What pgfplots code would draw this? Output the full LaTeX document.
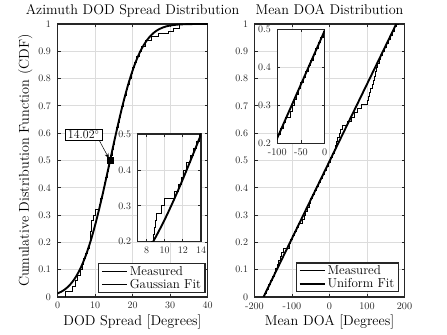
\documentclass[border=0pt]{standalone}
\usepackage{pgfplots}
\usepackage{pgfplotstable}
\pgfplotsset{compat=1.18}
\usetikzlibrary{arrows.meta}
\definecolor{gridc}{RGB}{220,220,220}
\definecolor{axc}{RGB}{38,38,38}
\newcommand\lblf{\fontsize{14.3}{16}\selectfont}
\newcommand\ttlf{\fontsize{14.2}{16}\selectfont}
\newcommand\legf{\fontsize{13}{14}\selectfont}

\pgfplotstableread{
x y
0 0
2.0 0.02
4.0 0.04
4.8 0.06
5.4 0.08
6.0 0.10
6.5 0.12
7.0 0.14
7.5 0.16
8.0 0.18
8.5 0.20
8.75 0.22
8.85 0.24
8.95 0.26
9.05 0.28
9.6 0.30
10.0 0.32
11.1 0.34
11.5 0.36
11.85 0.38
12.1 0.40
12.4 0.42
12.8 0.44
13.2 0.46
13.5 0.48
13.85 0.50
14.18 0.52
14.49 0.54
14.81 0.56
15.13 0.58
15.46 0.60
15.78 0.62
16.11 0.64
16.45 0.66
16.79 0.68
17.14 0.70
17.50 0.72
17.88 0.74
18.27 0.76
18.68 0.78
19.10 0.80
19.55 0.82
20.03 0.84
20.55 0.86
21.11 0.88
21.75 0.90
22.47 0.92
23.5 0.94
25.0 0.955
27.0 0.965
29.5 0.975
31.0 0.985
32.5 1.0
40 1.0
}\measA

\pgfplotstableread{
x y
0 0.0130
1 0.0194
2 0.0282
3 0.0401
4 0.0559
5 0.0761
6 0.1015
7 0.1326
8 0.1696
9 0.2128
10 0.2617
11 0.3159
12 0.3742
13 0.4357
14 0.4987
15 0.5619
16 0.6233
17 0.6819
18 0.7363
19 0.7853
20 0.8287
21 0.8661
22 0.8974
23 0.9229
24 0.9434
25 0.9593
26 0.9714
27 0.9803
28 0.9868
29 0.9913
30 0.9944
32 0.9978
34 0.9992
36 0.9998
38 1.0
40 1.0
}\fitA

\pgfplotstableread{
x y
-177 0.0
-173.4 0.015
-168.1 0.03
-162.8 0.045
-157.5 0.06
-152.2 0.075
-146.8 0.09
-144 0.105
-140 0.12
-136 0.135
-132 0.15
-128 0.165
-124 0.18
-108 0.195
-104.4 0.21
-99.1 0.225
-93.8 0.24
-88.4 0.255
-84 0.27
-72 0.285
-68 0.30
-64 0.315
-60 0.33
-55 0.345
-51 0.36
-46 0.375
-40.6 0.39
-35.3 0.405
-30.0 0.42
-24.7 0.435
-19.4 0.45
-14.1 0.465
-8.8 0.48
-3.5 0.495
1.8 0.51
7.1 0.525
12.4 0.54
16 0.555
19 0.57
22 0.585
26 0.60
30 0.615
35 0.63
47 0.645
58 0.66
65 0.675
73 0.69
85 0.705
100 0.72
104 0.735
107 0.75
110 0.765
113 0.78
116 0.795
119 0.81
122 0.825
125 0.84
128 0.855
132 0.87
136 0.885
140 0.90
145.2 0.915
150.5 0.93
155.8 0.945
161.1 0.96
166.4 0.975
171.7 0.99
177 1.0
185 1.0
}\measB

\pgfplotstableread{
x y
-176 0
178 1
}\fitB

\pgfplotsset{
  matlab/.style={
    scale only axis,
    enlargelimits=false,
    axis line style={line width=1.2pt, draw=axc},
    grid=major,
    major grid style={draw=gridc, line width=0.8pt},
    tick align=inside,
    major tick length=3bp,
    tick style={draw=axc, line width=0.8pt},
    tick label style={font=\fontsize{10.2}{12}\selectfont, text=axc},
    xticklabel style={yshift=-2bp},
    yticklabel style={xshift=-3bp},
    axis background/.style={fill=white},
  },
}

\begin{document}
\begin{tikzpicture}
\useasboundingbox (0,0) rectangle (447bp,335bp);

% ---------- left main axis
\begin{axis}[matlab,
  at={(57.5bp,38bp)}, anchor=south west, width=150bp, height=273bp,
  xmin=0, xmax=40, ymin=0, ymax=1,
  xtick={0,10,20,30,40},
  ytick={0,0.1,0.2,0.3,0.4,0.5,0.6,0.7,0.8,0.9,1},
  title={Azimuth DOD Spread Distribution},
  title style={font=\ttlf, at={(axis description cs:0.5,1.014)}, anchor=base},
  xlabel={DOD Spread [Degrees]},
  xlabel style={font=\lblf, at={(axis description cs:0.5,-0.106)}, anchor=base},
  ylabel={Cumulative Distribution Function (CDF)},
  ylabel style={font=\lblf, at={(axis description cs:-0.215,0.5)}, anchor=center},
  legend cell align=left,
  legend style={at={(0.987,0.015)}, anchor=south east, draw=axc, line width=1.2pt,
    font=\legf, inner xsep=2bp, inner ysep=0.5bp, row sep=-1.5bp},
  legend image code/.code={\draw[#1] (0bp,0bp) -- (25bp,0bp);},
]
\addplot[const plot, black, line width=0.6pt] table {\measA};
\addplot[black, line width=1.9pt, smooth] table {\fitA};
\addplot[only marks, mark=square*, mark size=3bp, black, forget plot] coordinates {(14.02,0.5)};
\legend{Measured, Gaussian Fit}
\node[draw=black, fill=white, line width=0.6pt, font=\fontsize{12}{13}\selectfont,
  inner xsep=3bp, inner ysep=1.5bp] at (axis cs:6.98,0.595) {14.02$^\circ$};
\draw[-{Stealth[length=5bp,width=4bp]}, line width=0.5pt] (axis cs:11.2,0.572) -- (axis cs:13.7,0.508);
\end{axis}

% ---------- left inset
\begin{axis}[matlab,
  at={(137.5bp,93.3bp)}, anchor=south west, width=63.5bp, height=107.7bp,
  xmin=7, xmax=14, ymin=0.2, ymax=0.5,
  xtick={8,10,12,14}, ytick={0.2,0.3,0.4,0.5},
]
\addplot[const plot, black, line width=0.6pt] table {\measA};
\addplot[black, line width=1.9pt, smooth] table {\fitA};
\end{axis}

% ---------- right main axis
\begin{axis}[matlab,
  at={(254.5bp,38bp)}, anchor=south west, width=150bp, height=273bp,
  xmin=-200, xmax=200, ymin=0, ymax=1,
  xtick={-200,-100,0,100,200}, xticklabels={-200,-100,0,100,200},
  ytick={0,0.1,0.2,0.3,0.4,0.5,0.6,0.7,0.8,0.9,1},
  title={Mean DOA Distribution},
  title style={font=\ttlf, at={(axis description cs:0.5,1.014)}, anchor=base},
  xlabel={Mean DOA [Degrees]},
  xlabel style={font=\lblf, at={(axis description cs:0.5,-0.106)}, anchor=base},
  legend cell align=left,
  legend style={at={(0.963,0.018)}, anchor=south east, draw=axc, line width=1.2pt,
    font=\legf, inner xsep=2bp, inner ysep=0.5bp, row sep=-1.5bp},
  legend image code/.code={\draw[#1] (0bp,0bp) -- (25bp,0bp);},
]
\addplot[const plot, black, line width=0.6pt] table {\measB};
\addplot[black, line width=1.9pt] table {\fitB};
\legend{Measured, Uniform Fit}
\end{axis}

% ---------- right inset
\begin{axis}[matlab,
  at={(277.3bp,191.5bp)}, anchor=south west, width=47.4bp, height=114bp,
  xmin=-100, xmax=0, ymin=0.2, ymax=0.5,
  xtick={-100,-50,0}, xticklabels={-100,-50,0}, ytick={0.2,0.3,0.4,0.5},
]
\addplot[const plot, black, line width=0.6pt] table {\measB};
\addplot[black, line width=1.9pt] table {\fitB};
\end{axis}
\end{tikzpicture}
\end{document}
